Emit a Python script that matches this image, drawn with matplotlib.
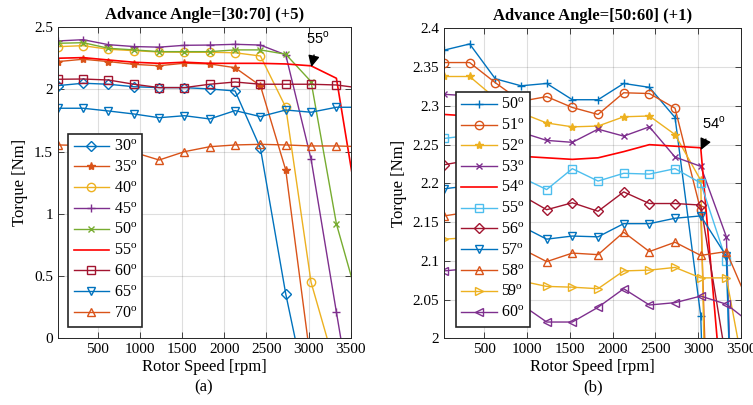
import numpy as np
import matplotlib
matplotlib.use("Agg")
import matplotlib.pyplot as plt

nan = np.nan
plt.rcParams['font.family'] = ['Liberation Serif', 'DejaVu Serif']
plt.rcParams['mathtext.fontset'] = 'custom'
plt.rcParams['mathtext.rm'] = 'Liberation Serif'
plt.rcParams['mathtext.sf'] = 'Liberation Sans'

# ---------------- data ----------------
speeds = [30, 330, 630, 930, 1230, 1530, 1830, 2130, 2430, 2730, 3030, 3330, 3630]

# left panel: advance angle 30..70 step 5
left_angles = [30, 35, 40, 45, 50, 55, 60, 65, 70]
a30 = [2.031, 2.050, 2.042, 2.022, 2.015, 2.015, 2.004, 1.988, 1.527, 0.356, -0.61, nan, nan]
a35 = [2.224, 2.243, 2.224, 2.202, 2.191, 2.211, 2.205, 2.175, 2.030, 1.352, -0.21, nan, nan]
a40 = [2.344, 2.352, 2.323, 2.312, 2.301, 2.299, 2.299, 2.295, 2.269, 1.857, 0.45, -0.26, nan]
a45 = [2.390, 2.400, 2.360, 2.345, 2.340, 2.355, 2.357, 2.363, 2.357, 2.278, 1.44, 0.21, -1.0]
a50 = [2.371, 2.376, 2.331, 2.318, 2.304, 2.304, 2.304, 2.318, 2.318, 2.283, 2.063, 0.92, 0.20]
a55 = [2.251, 2.256, 2.237, 2.219, 2.210, 2.219, 2.210, 2.210, 2.210, 2.205, 2.190, 2.09, 0.85]
a60 = [2.082, 2.084, 2.076, 2.042, 2.015, 2.015, 2.042, 2.060, 2.042, 2.042, 2.042, 2.036, 2.01]
a65 = [1.849, 1.849, 1.827, 1.803, 1.773, 1.789, 1.763, 1.830, 1.782, 1.835, 1.817, 1.857, 1.857]
a70 = [1.554, 1.550, 1.520, 1.495, 1.433, 1.500, 1.540, 1.554, 1.559, 1.554, 1.546, 1.546, 1.540]
left_series = [a30, a35, a40, a45, a50, a55, a60, a65, a70]

# right panel: advance angle 50..60 step 1
right_angles = [50, 51, 52, 53, 54, 55, 56, 57, 58, 59, 60]
b50 = [2.372, 2.380, 2.335, 2.326, 2.329, 2.308, 2.308, 2.329, 2.324, 2.285, 2.029, 1.0, nan]
b51 = [2.356, 2.356, 2.330, 2.306, 2.312, 2.298, 2.289, 2.317, 2.316, 2.297, 2.165, 1.1, nan]
b52 = [2.338, 2.338, 2.310, 2.291, 2.278, 2.273, 2.274, 2.286, 2.287, 2.263, 2.204, 0.5, nan]
b53 = [2.315, 2.313, 2.290, 2.266, 2.2555, 2.253, 2.270, 2.261, 2.273, 2.234, 2.222, 2.131, 1.0]
b54 = [2.289, 2.287, 2.260, 2.235, 2.233, 2.231, 2.233, 2.241, 2.250, 2.248, 2.246, 1.86, nan]
b55 = [2.258, 2.262, 2.235, 2.208, 2.192, 2.219, 2.203, 2.213, 2.212, 2.219, 2.2005, 2.100, 1.0]
b56 = [2.224, 2.230, 2.210, 2.185, 2.166, 2.175, 2.164, 2.189, 2.174, 2.174, 2.172, 1.97, nan]
b57 = [2.193, 2.197, 2.175, 2.145, 2.128, 2.132, 2.131, 2.148, 2.148, 2.155, 2.158, 2.106, 1.0]
b58 = [2.158, 2.163, 2.140, 2.116, 2.099, 2.110, 2.108, 2.137, 2.112, 2.124, 2.107, 2.112, 2.035]
b59 = [2.128, 2.130, 2.100, 2.074, 2.067, 2.066, 2.064, 2.087, 2.088, 2.0915, 2.078, 2.078, 1.90]
b60 = [2.087, 2.090, 2.078, 2.044, 2.021, 2.021, 2.040, 2.064, 2.043, 2.046, 2.0545, 2.044, 2.018]
right_series = [b50, b51, b52, b53, b54, b55, b56, b57, b58, b59, b60]

left_yticks = [0, 0.5, 1, 1.5, 2, 2.5]
left_yticklabels = ['0', '0.5', '1', '1.5', '2', '2.5']
right_yticks = [2, 2.05, 2.1, 2.15, 2.2, 2.25, 2.3, 2.35, 2.4]
right_yticklabels = ['2', '2.05', '2.1', '2.15', '2.2', '2.25', '2.3', '2.35', '2.4']
xticks = [500, 1000, 1500, 2000, 2500, 3000, 3500]

# ---------------- styles ----------------
BLUE = '#0072BD'; ORANGE = '#D95319'; YELLOW = '#EDB120'; PURPLE = '#7E2F8E'
GREEN = '#77AC30'; LBLUE = '#4DBEEE'; DRED = '#A2142F'; RED = '#FF0000'

left_styles = [(BLUE, 'D'), (ORANGE, '*'), (YELLOW, 'o'), (PURPLE, '+'), (GREEN, 'x'),
               (RED, None), (DRED, 's'), (BLUE, 'v'), (ORANGE, '^')]
right_styles = [(BLUE, '+'), (ORANGE, 'o'), (YELLOW, '*'), (PURPLE, 'x'), (RED, None),
                (LBLUE, 's'), (DRED, 'D'), (BLUE, 'v'), (ORANGE, '^'), (YELLOW, '>'), (PURPLE, '<')]
msizes = {'D': 5.0, 'o': 6.0, 's': 5.5, 'v': 6.0, '^': 6.0, '>': 6.0, '<': 6.0,
          '*': 6.0, 'x': 5.0, '+': 6.0}

fig = plt.figure(figsize=(7.53, 4.05), dpi=100)
axL = fig.add_axes([0.0768, 0.1647, 0.389, 0.768])
axR = fig.add_axes([0.5896, 0.1647, 0.3944, 0.765])


def draw(ax, series, angles, styles):
    for vals, ang, (c, m) in zip(series, angles, styles):
        kw = dict(color=c, lw=1.0, label=r'%d$^{\mathrm{o}}$' % ang)
        if m is None:
            kw['lw'] = 1.2
        else:
            filled = m in ('*',)
            kw.update(marker=m, markersize=msizes[m],
                      markerfacecolor=c if filled else 'none', markeredgecolor=c,
                      markeredgewidth=1.0)
        ax.plot(speeds, vals, **kw)


def style(ax):
    ax.set_xlim(30, 3500)
    ax.set_xticks(xticks)
    ax.set_xticklabels([str(t) for t in xticks])
    ax.grid(True, color='#262626', alpha=0.15, lw=0.8)
    ax.tick_params(direction='in', top=True, right=True, labelsize=11, length=4,
                   width=0.6, colors='#262626', labelcolor='black')
    for s in ax.spines.values():
        s.set_color('#262626'); s.set_linewidth(0.7)
    ax.set_xlabel('Rotor Speed [rpm]', fontsize=12, labelpad=2)
    ax.set_ylabel('Torque [Nm]', fontsize=12, labelpad=4)


draw(axL, left_series, left_angles, left_styles)
style(axL)
axL.set_ylim(0, 2.5)
axL.set_yticks(left_yticks)
axL.set_yticklabels(left_yticklabels)
axL.set_title('Advance Angle=[30:70] (+5)', fontsize=12, fontweight='bold', pad=6)
legL = axL.legend(loc='lower left', bbox_to_anchor=(0.035, 0.036), fontsize=11.5,
                  frameon=True, fancybox=False, edgecolor='#262626', framealpha=1,
                  labelspacing=0.3, handlelength=2.2, handletextpad=0.3,
                  borderpad=0.35, borderaxespad=0)
legL.get_frame().set_linewidth(1.2)
axL.annotate(r'55$^{\mathsf{o}}$', xy=(3033, 2.18), xytext=(3110, 2.41),
             fontsize=10.5, family='Liberation Sans', ha='center', va='center',
             arrowprops=dict(arrowstyle='-|>', color='black', lw=1.0,
                             mutation_scale=17, shrinkA=4, shrinkB=0))

draw(axR, right_series, right_angles, right_styles)
style(axR)
axR.set_ylim(2, 2.4)
axR.set_yticks(right_yticks)
axR.set_yticklabels(right_yticklabels)
axR.set_title('Advance Angle=[50:60] (+1)', fontsize=12, fontweight='bold', pad=6)
legR = axR.legend(loc='lower left', bbox_to_anchor=(0.04, 0.037), fontsize=11.5,
                  frameon=True, fancybox=False, edgecolor='#262626', framealpha=1,
                  labelspacing=0.3, handlelength=2.2, handletextpad=0.3,
                  borderpad=0.35, borderaxespad=0)
legR.get_frame().set_linewidth(1.2)
axR.annotate(r'54$^{\mathsf{o}}$', xy=(3030, 2.243), xytext=(3180, 2.278),
             fontsize=10.5, family='Liberation Sans', ha='center', va='center',
             arrowprops=dict(arrowstyle='-|>', color='black', lw=1.0,
                             mutation_scale=17, shrinkA=4, shrinkB=0))

fig.text(204 / 753, 1 - 387 / 405, '(a)', ha='center', va='center', fontsize=12)
fig.text(593 / 753, 1 - 387 / 405, '(b)', ha='center', va='center', fontsize=12)

fig.savefig('out.png', dpi=100)
